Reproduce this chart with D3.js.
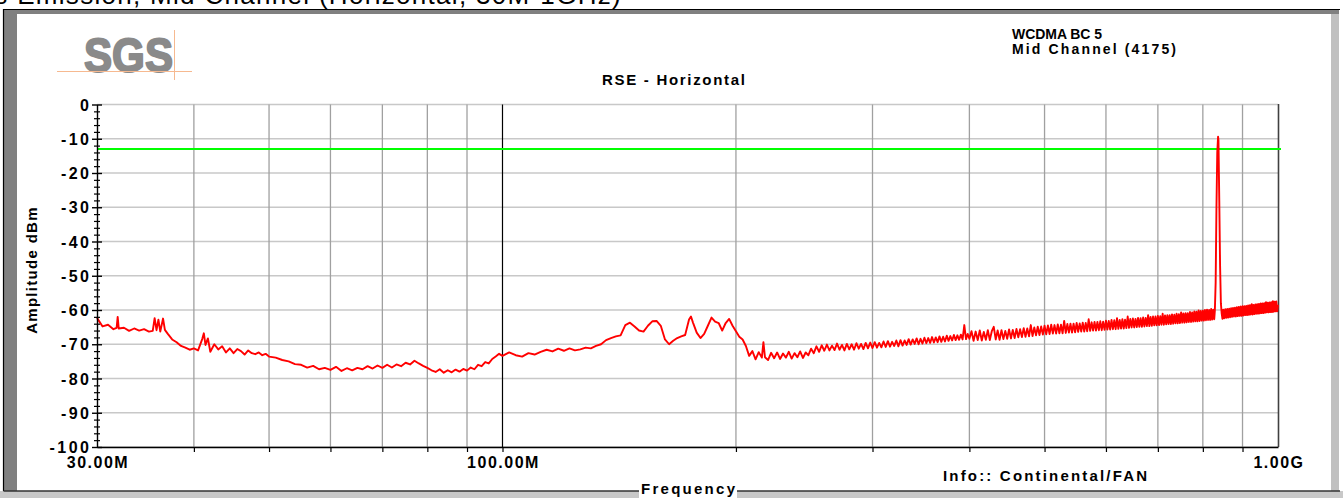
<!DOCTYPE html>
<html><head><meta charset="utf-8">
<script src="https://cdn.jsdelivr.net/npm/d3@7/dist/d3.min.js"></script>
<style>
body{margin:0;background:#fff;overflow:hidden}
svg{display:block}
text{font-family:"Liberation Sans",Arial,sans-serif;}
</style></head>
<body><svg id="c" width="1343" height="498"></svg>
<script>
// ---- data ----
const headerText = "Radiated Spurious Emission, Mid Channel (Horizontal, 30M-1GHz)";
const chartTitle = "RSE - Horizontal";
const bandLine1 = "WCDMA BC 5";
const bandLine2 = "Mid Channel (4175)";
const infoText = "Info:: Continental/FAN";
const xAxisTitle = "Frequency";
const yAxisTitle = "Amplitude dBm";
const logoText = "SGS";
const limitDbm = -13;
const yTickValues = [0,-10,-20,-30,-40,-50,-60,-70,-80,-90,-100];
const xGridMHz = [40,50,60,70,80,90,100,200,300,400,500,600,700,800,900];
const xLabelMHz = [30,100,1000];
const xLabelText = ["30.00M","100.00M","1.00G"];
// trace: [frequency MHz, amplitude dBm]
const tracePoints = [
[30,-62.3],[30.5,-64.8],[31,-64.3],[31.5,-65.6],[31.8,-65.2],[31.9,-62.0],[32,-65.4],[32.5,-65.2],[33,-66.1],[33.5,-65.4],
[34,-66.0],[34.5,-65.6],[35,-66.3],[35.4,-66.1],[35.6,-62.4],[35.8,-65.9],[36,-62.8],[36.2,-66.3],[36.5,-62.5],[36.7,-65.8],
[37,-66.9],[37.5,-68.6],[38,-69.4],[38.5,-70.5],[39,-71.0],[39.5,-71.6],[40,-71.2],[40.5,-71.8],[41,-68.5],[41.2,-66.8],
[41.4,-70.2],[41.7,-68.3],[42,-72.2],[42.5,-70.0],[43,-71.5],[43.5,-70.6],[44,-72.4],[44.5,-71.2],[45,-72.6],[45.5,-71.4],
[46,-72.0],[46.5,-73.0],[47,-71.8],[47.5,-72.6],[48,-72.9],[48.5,-72.4],[49,-73.2],[49.5,-72.8],
[50,-73.6],[51,-73.9],[52,-74.6],[53,-75.0],[54,-75.8],[55,-76.0],[56,-76.8],[57,-76.3],[58,-77.3],[59,-76.9],
[60,-77.5],[61,-76.6],[62,-77.8],[63,-77.0],[64,-77.6],[65,-76.9],[66,-77.3],[67,-76.4],[68,-77.1],[69,-76.2],
[70,-76.9],[71,-76.0],[72,-76.8],[73,-75.9],[74,-76.4],[75,-75.4],[76,-75.9],[77,-74.8],[78,-75.6],[79,-76.3],
[80,-76.9],[81,-77.6],[82,-78.1],[83,-77.3],[84,-78.3],[85,-77.6],[86,-78.2],[87,-77.4],[88,-78.0],[89,-77.2],
[90,-77.7],[91,-76.8],[92,-77.3],[93,-76.0],[94,-76.4],[95,-75.2],[96,-75.6],[97,-74.3],[98,-73.6],[99,-72.8],
[100,-73.4],[102,-72.4],[104,-73.2],[106,-73.6],[108,-72.6],[110,-73.0],[112,-72.2],[114,-71.6],[116,-72.1],[118,-71.3],
[120,-71.9],[122,-71.2],[124,-71.8],[126,-71.5],[128,-71.0],[130,-71.2],[132,-70.5],[134,-70.0],[136,-68.8],[138,-68.2],
[140,-67.7],[142,-67.4],[144,-64.4],[146,-63.7],[148,-64.8],[150,-66.0],[152,-66.3],[154,-64.6],[156,-63.3],[158,-63.2],
[160,-64.6],[162,-68.6],[164,-70.0],[166,-69.0],[168,-68.2],[170,-67.7],[172,-67.3],[174,-62.8],[175,-61.9],[176,-63.6],
[178,-66.6],[180,-68.2],[182,-67.0],[184,-64.6],[186,-62.2],[188,-63.4],[190,-63.8],[192,-66.0],[194,-63.8],[196,-62.6],
[198,-64.6],
[200,-66.2],[202,-67.8],[204,-68.6],[206,-70.5],[208,-73.4],[210,-72.0],[212,-74.4],[214,-72.3],[216,-73.9],[217,-69.4],
[218,-73.8],[220,-74.6],[222,-72.5],[224,-74.1],[226,-72.4],[228,-74.3],[230,-72.7],[232,-73.9],[234,-72.2],[236,-74.2],
[238,-72.6],[240,-73.8],[242,-72.1],[244,-74.0],[246,-72.4],[248,-73.2],[250,-71.3],[252,-72.6],[254,-70.6],[256,-72.2],
[258,-70.3],[260,-71.9],[262,-70.1],[264,-71.8],[266,-70.4],[268,-71.7],[270,-69.8],[272,-71.6],[274,-70.2],[276,-71.8],
[278,-69.9],[280,-71.5],[282,-70.0],[284,-71.6],[286,-69.7],[288,-71.3],[290,-69.9],[292,-71.4],[294,-69.6],[296,-71.2],
[298,-69.5],[300,-71.1],[302,-69.4],[304,-71.0],[306,-69.6],[308,-70.9],[310,-69.2],[312,-70.8],[314,-69.1],[316,-70.7],
[318,-69.3],[320,-70.5],[322,-68.9],[324,-70.6],[326,-68.8],[328,-70.4],[330,-68.9],[332,-70.2],[334,-68.5],[336,-70.1],
[338,-68.6],[340,-69.9],[342,-68.3],[344,-70.0],[346,-68.4],[348,-69.8],[350,-68.1],[352,-69.7],[354,-68.2],[356,-69.6],
[358,-67.9],[360,-69.5],[362,-68.0],[364,-69.4],[366,-67.7],[368,-69.3],[370,-67.8],[372,-69.2],[374,-67.5],[376,-69.0],
[378,-67.6],[380,-68.9],[382,-67.3],[384,-68.8],[386,-67.4],[388,-68.7],[390,-67.2],[392,-68.6],[394,-64.4],[396,-68.5],
[398,-67.0],[400,-68.4],
[402.5,-66.2],[405,-69.0],[407.5,-66.3],[410,-68.8],[412.5,-66.0],[415,-68.9],[417.5,-66.4],[420,-68.7],[422.5,-65.9],[425,-68.8],
[427.5,-66.2],[430,-64.9],[432.5,-68.6],[435,-66.0],[437.5,-68.7],[440,-65.9],[442.5,-68.5],[445,-66.1],[447.5,-68.4],[450,-65.7],
[452.5,-68.3],[455,-65.8],[457.5,-68.2],[460,-65.5],[462.5,-68.0],[465,-65.6],[467.5,-67.9],[470,-65.3],[472.5,-67.8],[475,-65.4],
[477.5,-67.7],[480,-64.4],[482.5,-67.6],[485,-65.1],[487.5,-67.4],[490,-64.9],[492.5,-67.3],[495,-64.8],[497.5,-67.2],[500,-64.6],
[502.5,-67.1],[505,-64.5],[507.5,-67.0],[510,-64.3],[512.5,-66.9],[515,-64.4],[517.5,-66.9],[520,-64.2],[522.5,-66.8],[525,-64.3],
[527.5,-66.8],[530,-63.2],[532.5,-66.7],[535,-64.1],[537.5,-66.6],[540,-64.0],[542.5,-66.6],[545,-64.0],[547.5,-66.5],[550,-63.8],
[552.5,-66.4],[555,-63.9],[557.5,-66.3],[560,-63.7],[562.5,-66.3],[565,-63.8],[567.5,-66.2],[570,-62.7],[572.5,-66.1],[575,-63.6],
[577.5,-66.0],[580,-63.5],[582.5,-66.0],[585,-63.5],[587.5,-65.9],[590,-63.3],[592.5,-65.9],[595,-63.4],[597.5,-65.8],[600,-63.1],
[602.5,-65.7],[605,-63.2],[607.5,-65.7],[610,-62.9],[612.5,-65.6],[615,-63.0],[617.5,-65.6],[620,-62.4],[622.5,-65.5],[625,-62.9],
[627.5,-65.4],[630,-62.7],[632.5,-65.4],[635,-62.8],[637.5,-65.3],[640,-61.9],[642.5,-65.2],[645,-62.6],[647.5,-65.1],[650,-62.5],
[652.5,-65.1],[655,-62.6],[657.5,-65.0],[660,-62.3],[662.5,-64.9],[665,-62.4],[667.5,-64.9],[670,-62.2],[672.5,-64.8],[675,-62.3],
[677.5,-64.7],[680,-61.5],[682.5,-64.7],[685,-62.0],[687.5,-64.6],[690,-61.9],[692.5,-64.5],[695,-61.9],[697.5,-64.5],[700,-61.7],
[702.5,-64.4],[705,-61.8],[707.5,-64.3],[710,-61.1],[712.5,-64.3],[715,-61.6],[717.5,-64.2],[720,-61.5],[722.5,-64.1],[725,-61.5],
[727.5,-64.1],[730,-61.3],[732.5,-64.0],[735,-61.4],[737.5,-63.9],[740,-61.1],[742.5,-63.9],[745,-61.2],[747.5,-63.8],[750,-60.7],
[752.5,-63.7],[755,-61.0],[757.5,-63.7],[760,-60.9],[762.5,-63.6],[765,-60.9],[767.5,-63.5],[770,-60.6],[772.5,-63.5],[775,-60.7],
[777.5,-63.4],[780,-60.4],[782.5,-63.3],[785,-60.5],[787.5,-63.3],[790,-60.1],[792.5,-63.2],[795,-60.3],[797.5,-63.1],[800,-60.2],
[802.5,-63.1],[805,-60.0],[807.5,-63.0],[810,-59.9],[812.5,-62.9],[815,-60.0],[817.5,-62.9],[820,-59.7],[822.5,-62.8],[825,-59.9],
[827.5,-62.7],
[829,-60.3],[831,-52.0],[833,-30.0],[835,-14.0],[837,-9.4],[838,-10.5],[840,-28.0],[842,-47.0],[844,-58.0],[846,-61.0],[848,-62.6],
[850,-59.9],[852.5,-62.4],[855,-59.8],[857.5,-62.3],[860,-59.7],[862.5,-62.2],[865,-59.6],[867.5,-62.1],[870,-59.5],[872.5,-62.0],
[875,-59.4],[877.5,-61.9],[880,-59.3],[882.5,-61.9],[885,-59.2],[887.5,-61.8],[890,-59.1],[892.5,-61.7],[895,-59.0],[897.5,-61.7],
[900,-58.9],[902.5,-61.6],[905,-58.9],[907.5,-61.5],[910,-58.8],[912.5,-61.5],[915,-58.7],[917.5,-61.4],[920,-58.6],[922.5,-61.3],
[925,-58.3],[927.5,-61.3],[930,-58.5],[932.5,-61.2],[935,-58.4],[937.5,-61.1],[940,-58.3],[942.5,-61.1],[945,-58.2],[947.5,-61.0],
[950,-58.1],[952.5,-60.9],[955,-58.1],[957.5,-60.9],[960,-58.0],[962.5,-60.8],[965,-57.7],[967.5,-60.7],[970,-57.9],[972.5,-60.7],
[975,-57.8],[977.5,-60.6],[980,-57.7],[982.5,-60.6],[985,-57.4],[987.5,-60.5],[990,-57.6],[992.5,-60.4],[995,-57.5],[997.5,-60.4],
[1000,-58.4]
];

// ---- drawing ----
const svg = d3.select("#c");
const W = 1343, H = 498;
const L = 97, R = 1278, T = 104.5, B = 447;
const x = d3.scaleLog().domain([30,1000]).range([L,R]);
const y = d3.scaleLinear().domain([-100,0]).range([B,T]);

svg.append("rect").attr("width",W).attr("height",H).attr("fill","#fff");

// header text, mostly above the window top (as in the reference)
svg.append("text").attr("x",622).attr("y",4).attr("text-anchor","end")
  .style("font-size","26px").style("letter-spacing","1.3px").attr("fill","#000").text(headerText);

// window frame
svg.append("rect").attr("x",0).attr("y",491).attr("width",W).attr("height",7).attr("fill","#c8c8c8");
svg.append("rect").attr("x",1331).attr("y",13).attr("width",8).attr("height",478).attr("fill","#c0c0c0");
svg.append("rect").attr("x",4).attr("y",9).attr("width",1335).attr("height",5).attr("fill","#808080");
svg.append("rect").attr("x",4).attr("y",9).attr("width",13).attr("height",482).attr("fill","#808080");
svg.append("path").attr("d","M3.5,491 V9.5 H1340").attr("fill","none").attr("stroke","#000").attr("stroke-width",1.2);
svg.append("path").attr("d","M3.5,491 H1340").attr("fill","none").attr("stroke","#333").attr("stroke-width",1.5);

// SGS logo
svg.append("text").attr("x",84).attr("y",72).attr("textLength",89).attr("lengthAdjust","spacingAndGlyphs")
  .style("font-size","49px").style("font-weight","bold").attr("fill","#8a8a8a")
  .attr("stroke","#8a8a8a").attr("stroke-width",2).attr("stroke-linejoin","round").text(logoText);
svg.append("line").attr("x1",57).attr("x2",192).attr("y1",71.5).attr("y2",71.5).attr("stroke","#f6b990").attr("stroke-width",1);
svg.append("line").attr("x1",174.5).attr("x2",174.5).attr("y1",30).attr("y2",80).attr("stroke","#f6b990").attr("stroke-width",1);

// grid
const g = svg.append("g");
g.selectAll(".hg").data(yTickValues).join("line")
  .attr("x1",L).attr("x2",R).attr("y1",d=>y(d)).attr("y2",d=>y(d))
  .attr("stroke","#c8c8c8").attr("stroke-width",1.5);
g.selectAll(".vg").data(xGridMHz).join("line")
  .attr("x1",d=>x(d)).attr("x2",d=>x(d)).attr("y1",T).attr("y2",B)
  .attr("stroke",d=>d===100?"#000":"#a0a0a0").attr("stroke-width",d=>d===100?1.2:1.3);
g.append("line").attr("x1",R+0.5).attr("x2",R+0.5).attr("y1",T-0.5).attr("y2",B)
  .attr("stroke","#404040").attr("stroke-width",1.6);

// limit line
g.append("line").attr("x1",L).attr("x2",R+3).attr("y1",y(limitDbm)).attr("y2",y(limitDbm))
  .attr("stroke","#00ff00").attr("stroke-width",2);

// trace
const line = d3.line().x(d=>x(d[0])).y(d=>y(d[1]));
g.append("path").datum(tracePoints).attr("d",line).attr("fill","none")
  .attr("stroke","#ff0000").attr("stroke-width",1.9).attr("stroke-linejoin","round");

// x axis
const xa = svg.append("g").attr("transform",`translate(0,${B})`)
  .call(d3.axisBottom(x).tickValues(xGridMHz).tickSize(5).tickSizeOuter(0).tickFormat(""));
xa.select(".domain").attr("stroke","#000").attr("stroke-width",1.4);
xa.selectAll(".tick line").attr("stroke","#000").attr("stroke-width",1.2);

// y axis (major + minor crossing ticks)
const ya = svg.append("g").attr("transform",`translate(${L},0)`)
  .call(d3.axisLeft(y).tickValues(yTickValues).tickSize(5).tickSizeOuter(0).tickFormat(""));
ya.select(".domain").attr("stroke","#000").attr("stroke-width",1.4);
ya.selectAll(".tick line").attr("x1",5).attr("x2",-5).attr("stroke","#000").attr("stroke-width",1.4);
const minor = d3.range(-98,0,2).filter(v=>v%10!==0);
const ym = svg.append("g").attr("transform",`translate(${L},0)`)
  .call(d3.axisLeft(y).tickValues(minor).tickSize(3).tickSizeOuter(0).tickFormat(""));
ym.select(".domain").remove();
ym.selectAll(".tick line").attr("x1",3).attr("x2",-3).attr("stroke","#000").attr("stroke-width",1.2);

// y tick labels
svg.append("g").selectAll("text").data(yTickValues).join("text")
  .attr("x",91.5).attr("y",d=>y(d)+6).attr("text-anchor","end")
  .style("font-size","16px").style("font-weight","bold").style("letter-spacing","2.5px")
  .text(d=>String(d));

// x labels
svg.append("g").selectAll("text").data(xLabelMHz).join("text")
  .attr("x",d=>x(d)+1).attr("y",468).attr("text-anchor","middle")
  .style("font-size","16px").style("font-weight","bold").style("letter-spacing","1.5px")
  .text((d,i)=>xLabelText[i]);

// titles
svg.append("text").attr("x",602).attr("y",85).attr("textLength",143).attr("lengthAdjust","spacing")
  .style("font-size","15px").style("font-weight","bold").text(chartTitle);
svg.append("text").attr("x",1012).attr("y",39).attr("textLength",90).attr("lengthAdjust","spacing")
  .style("font-size","14px").style("font-weight","bold").text(bandLine1);
svg.append("text").attr("x",1012).attr("y",54).attr("textLength",164).attr("lengthAdjust","spacing")
  .style("font-size","14px").style("font-weight","bold").text(bandLine2);
svg.append("text").attr("x",943).attr("y",481).attr("textLength",204).attr("lengthAdjust","spacing")
  .style("font-size","15px").style("font-weight","bold").text(infoText);

svg.append("rect").attr("x",639).attr("y",480).attr("width",98).attr("height",18).attr("fill","#fff");
svg.append("text").attr("x",641).attr("y",494).attr("textLength",94).attr("lengthAdjust","spacing")
  .style("font-size","15px").style("font-weight","bold").text(xAxisTitle);

svg.append("text").attr("transform","translate(37,270) rotate(-90)").attr("text-anchor","middle")
  .style("font-size","15px").style("font-weight","bold").style("letter-spacing","1.3px").text(yAxisTitle);
</script>
</body></html>
